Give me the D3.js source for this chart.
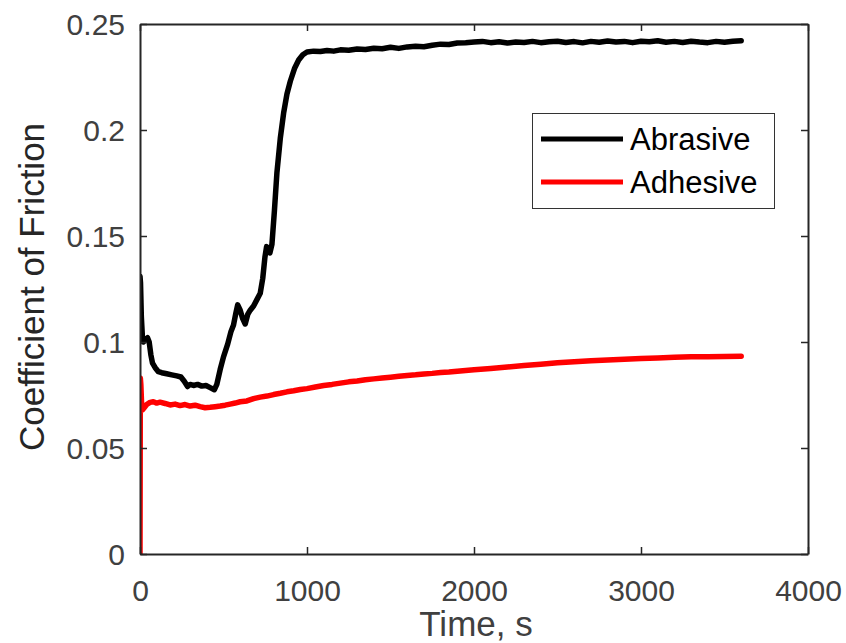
<!DOCTYPE html>
<html>
<head>
<meta charset="utf-8">
<script src="https://cdn.jsdelivr.net/npm/d3@7"></script>
<style>
html,body{margin:0;padding:0;background:#fff;}
svg{display:block;font-family:"Liberation Sans",Arial,sans-serif;}
</style>
</head>
<body>
<svg id="chart" width="846" height="643"></svg>
<script>
// ---- data ----
const abrasiveTime = [0,3,8,14,20,30,45,55,65,75,90,110,130,160,190,220,245,265,285,300,320,345,370,395,420,445,460,480,500,525,545,560,575,585,600,615,630,645,660,680,700,720,735,748,758,768,778,790,805,820,840,860,880,900,925,950,975,1000,1040,1080,1120,1160,1200,1250,1300,1350,1400,1450,1500,1550,1600,1650,1700,1750,1800,1850,1900,1950,2000,2050,2100,2150,2200,2250,2300,2350,2400,2450,2500,2550,2600,2650,2700,2750,2800,2850,2900,2950,3000,3050,3100,3150,3200,3250,3300,3350,3400,3450,3500,3550,3600];
const abrasiveCoF = [0.131,0.128,0.112,0.103,0.100,0.101,0.102,0.100,0.094,0.090,0.088,0.086,0.0855,0.085,0.0845,0.0840,0.0835,0.0815,0.0790,0.0800,0.0795,0.0800,0.0792,0.0795,0.0785,0.0775,0.0800,0.0870,0.0930,0.0990,0.1050,0.1080,0.1140,0.1175,0.1150,0.1110,0.1085,0.1130,0.1150,0.1170,0.1200,0.1230,0.1300,0.1400,0.1450,0.1440,0.1420,0.1460,0.1620,0.1800,0.1960,0.2080,0.2170,0.2230,0.2290,0.2330,0.2355,0.2368,0.2372,0.2370,0.2375,0.2372,0.2378,0.2376,0.2382,0.2380,0.2386,0.2383,0.2390,0.2385,0.2392,0.2395,0.2393,0.2400,0.2405,0.2403,0.2410,0.2412,0.2415,0.2418,0.2412,0.2416,0.2410,0.2415,0.2413,0.2418,0.2412,0.2416,0.2419,0.2413,0.2417,0.2411,0.2418,0.2414,0.2420,0.2415,0.2418,0.2412,0.2419,0.2416,0.2421,0.2414,0.2418,0.2413,0.2419,0.2415,0.2412,0.2418,0.2414,0.2419,0.2421];

const adhesiveTime = [0,2,5,10,15,25,40,60,80,100,120,150,180,210,240,270,300,330,360,390,420,450,480,510,540,570,600,640,680,720,760,800,840,880,920,960,1000,1050,1100,1150,1200,1250,1300,1350,1400,1450,1500,1550,1600,1650,1700,1750,1800,1850,1900,1950,2000,2100,2200,2300,2400,2500,2600,2700,2800,2900,3000,3100,3200,3300,3400,3500,3600];
const adhesiveCoF = [0,0.083,0.080,0.070,0.068,0.069,0.0705,0.0715,0.0718,0.0712,0.0716,0.0710,0.0703,0.0707,0.0700,0.0705,0.0698,0.0702,0.0695,0.0690,0.0692,0.0695,0.0698,0.0702,0.0707,0.0712,0.0718,0.0722,0.0733,0.0740,0.0745,0.0752,0.0758,0.0765,0.0770,0.0776,0.0780,0.0788,0.0795,0.0800,0.0806,0.0812,0.0816,0.0822,0.0826,0.0830,0.0834,0.0838,0.0842,0.0845,0.0849,0.0852,0.0856,0.0858,0.0862,0.0866,0.0869,0.0875,0.0882,0.0889,0.0895,0.0902,0.0907,0.0912,0.0915,0.0919,0.0922,0.0925,0.0928,0.0930,0.0931,0.0932,0.0933];

const xTicks = [0,1000,2000,3000,4000];
const yTicks = [0,0.05,0.1,0.15,0.2,0.25];
const yTickLabels = ["0","0.05","0.1","0.15","0.2","0.25"];
const seriesNames = ["Abrasive","Adhesive"];
const seriesColors = ["#000000","#ff0000"];

// ---- layout ----
const svg = d3.select("#chart");
const L = 140, R = 808, T = 24, B = 554;
const x = d3.scaleLinear().domain([0,4000]).range([L,R]);
const y = d3.scaleLinear().domain([0,0.25]).range([B,T]);
const axisColor = "#262626", textColor = "#404040";
const FONT = "'Liberation Sans',Arial,sans-serif";

const series = [
  abrasiveTime.map((t,i)=>[t,abrasiveCoF[i]]),
  adhesiveTime.map((t,i)=>[t,adhesiveCoF[i]])
];

const line = d3.line().x(d=>x(d[0])).y(d=>y(d[1]));
svg.append("clipPath").attr("id","plotclip").append("rect")
  .attr("x",L).attr("y",T-4).attr("width",R-L).attr("height",B-T+4);

const g = svg.append("g").attr("clip-path","url(#plotclip)");
series.forEach((s,i)=>{
  g.append("path").datum(s).attr("d",line)
    .attr("fill","none").attr("stroke",seriesColors[i])
    .attr("stroke-width",5.5).attr("stroke-linejoin","round").attr("stroke-linecap","round");
});

// axes
const fmt = (d)=>yTickLabels[yTicks.indexOf(d)];
const axB = svg.append("g").attr("transform",`translate(0,${B})`)
  .call(d3.axisBottom(x).tickValues(xTicks).tickSizeInner(-7).tickSizeOuter(0).tickFormat(d3.format("d")));
const axT = svg.append("g").attr("transform",`translate(0,${T})`)
  .call(d3.axisTop(x).tickValues(xTicks).tickSizeInner(-7).tickSizeOuter(0).tickFormat(""));
const axL = svg.append("g").attr("transform",`translate(${L},0)`)
  .call(d3.axisLeft(y).tickValues(yTicks).tickSizeInner(-7).tickSizeOuter(0).tickPadding(15).tickFormat(fmt));
const axR = svg.append("g").attr("transform",`translate(${R},0)`)
  .call(d3.axisRight(y).tickValues(yTicks).tickSizeInner(-7).tickSizeOuter(0).tickFormat(""));
[axB,axT,axL,axR].forEach(a=>{
  a.select(".domain").attr("stroke",axisColor).attr("stroke-width",2);
  a.selectAll(".tick line").attr("stroke",axisColor).attr("stroke-width",1.5);
  a.selectAll("text").attr("fill",textColor).style("font-size","30px").style("font-family",FONT);
});
axB.selectAll("text").attr("y",36).attr("dy","0.36em");
axL.selectAll("text").attr("dy","0.36em");

// axis labels
svg.append("text").attr("x",476).attr("y",636).attr("text-anchor","middle")
  .attr("fill",textColor).style("font-size","35px").style("font-family",FONT).text("Time, s");
svg.append("text").attr("transform",`translate(44,287) rotate(-90)`).attr("text-anchor","middle")
  .attr("fill",axisColor).style("font-size","35px").style("font-family",FONT).text("Coefficient of Friction");

// legend
const lg = svg.append("g");
lg.append("rect").attr("x",532.5).attr("y",113.5).attr("width",242).attr("height",95)
  .attr("fill","#fff").attr("stroke","#333").attr("stroke-width",1);
seriesNames.forEach((n,i)=>{
  const yy = 139 + i*43;
  lg.append("line").attr("x1",541).attr("x2",623).attr("y1",yy).attr("y2",yy)
    .attr("stroke",seriesColors[i]).attr("stroke-width",5);
  lg.append("text").attr("x",630).attr("y",yy).attr("dy","0.36em")
    .attr("fill","#000").style("font-size","31px").style("font-family",FONT).text(n);
});
</script>
</body>
</html>
